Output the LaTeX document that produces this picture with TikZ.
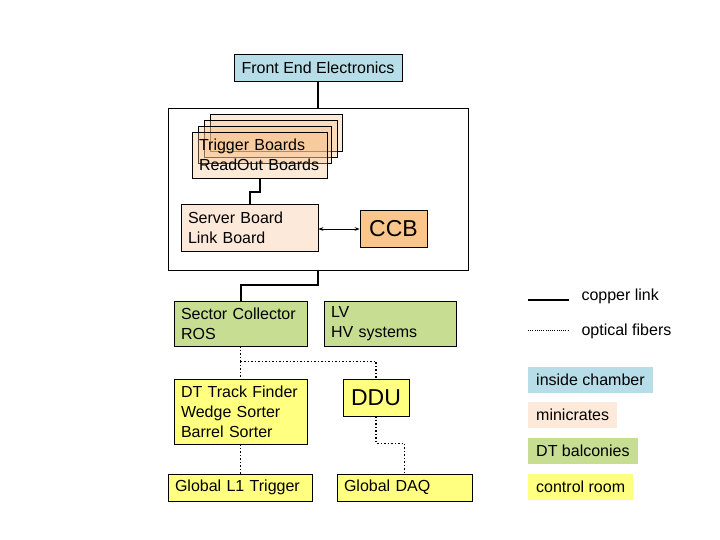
\documentclass[tikz,border=0pt]{standalone}
\usepackage{fontspec}
\setmainfont{Liberation Sans}
\usepackage{tikz}
\usetikzlibrary{arrows.meta,positioning,calc}

\definecolor{chamber}{HTML}{B7DDE8}
\definecolor{minicrate}{HTML}{FDE9D9}
\definecolor{boardorange}{HTML}{F7C08A}
\definecolor{ccborange}{HTML}{FAC68C}
\definecolor{balcony}{HTML}{C6DD92}
\definecolor{ctrlroom}{HTML}{FFFF80}

\begin{document}
\begin{tikzpicture}[
    x=1pt, y=-1pt,
    every node/.style={font=\fontsize{16}{20}\selectfont},
    box/.style={rectangle, draw, line width=0.8pt, inner xsep=7pt, inner ysep=0pt, align=left},
    board/.style={rectangle, draw, line width=0.8pt, fill=boardorange, fill opacity=0.35, text opacity=1, inner xsep=7pt, inner ysep=0pt, align=left},
    big/.style={font=\fontsize{23}{26}\selectfont},
    swatch/.style={rectangle, inner xsep=8pt, inner ysep=0pt, minimum height=26pt, anchor=west},
    copper/.style={line width=2pt},
    fiber/.style={line width=1.5pt, dash pattern=on 1.5pt off 2pt}
]
\useasboundingbox (0,0) rectangle (720,540);

% Inside chamber
\node[box, fill=chamber, minimum width=168pt, minimum height=27pt, align=center] (fee) at (318,67.5) {Front End Electronics};

% Minicrate frame
\node[rectangle, draw, line width=0.8pt, minimum width=300pt, minimum height=162pt] (frame) at (318,189) {};

% Stacked boards
\node[board, minimum width=132pt, minimum height=37pt] (board3) at (276,132.5) {};
\node[board, minimum width=133pt, minimum height=37pt] (board2) at (270.5,138.5) {};
\node[board, minimum width=133pt, minimum height=37pt] (board1) at (264.5,144.5) {};
\node[board, text width=121pt, minimum height=46pt] (boards) at (259.5,155) {Trigger Boards\\ReadOut~Boards};

% Server and CCB
\node[box, fill=minicrate, text width=123pt, minimum height=47pt] (server) at (249.5,227.5) {Server Board\\Link Board};
\node[box, fill=ccborange, big, minimum width=67pt, minimum height=37pt, inner xsep=2pt, align=center] (ccb) at (393.5,229) {CCB};

% DT balconies
\node[box, fill=balcony, text width=119pt, minimum height=45pt] (sector) at (240.5,323.5) {Sector Collector\\ROS};
\node[box, fill=balcony, text width=118pt, minimum height=45pt] (lvhv) at (390,323.5) {LV\\HV systems};

% Control room
\node[box, fill=ctrlroom, text width=119pt, minimum height=65pt] (tf) at (240.5,411.5) {DT Track~Finder\\Wedge Sorter\\Barrel Sorter};
\node[box, fill=ctrlroom, big, minimum width=66pt, minimum height=37pt, inner xsep=2pt, align=center] (ddu) at (376,397.5) {DDU};
\node[box, fill=ctrlroom, text width=130pt, minimum height=27pt] (gl1) at (240,487.5) {Global L1 Trigger};
\node[box, fill=ctrlroom, text width=121pt, minimum height=27pt] (gdaq) at (404.5,487.5) {Global DAQ};

% Copper links
\draw[copper] (fee.south) -- (frame.north);
\draw[copper] (boards.south) -- ++(0,14) -| (server.north);
\draw[line width=0.8pt, {Stealth[length=5pt]}-{Stealth[length=5pt]}] (ccb.west -| server.east) -- (ccb.west);
\draw[copper] (frame.south) -- ++(0,15) -| (sector.north);

% Optical fibers
\draw[fiber] (sector.south) -- ++(0,15) coordinate (split);
\draw[fiber] (split) -| (ddu.north);
\draw[fiber] (split) -- (tf.north);
\draw[fiber] (tf.south) -- (tf.south |- gl1.north);
\draw[fiber] (ddu.south) -- ++(0,27) -| (gdaq.north);

% Legend
\coordinate (cu_a) at (528,300);
\coordinate (cu_b) at (569,300);
\draw[copper] (cu_a) -- (cu_b);
\node[anchor=west] (cu_lbl) at (578,296) {copper link};
\coordinate (of_a) at (528,330);
\coordinate (of_b) at (569,330);
\draw[line width=1pt, dash pattern=on 1pt off 1.2pt] (of_a) -- (of_b);
\node[anchor=west] (of_lbl) at (578,331) {optical fibers};

\node[swatch, fill=chamber] (leg_chamber) at (528,379.5) {inside chamber};
\node[swatch, fill=minicrate] (leg_minicrate) at (528,415) {minicrates};
\node[swatch, fill=balcony] (leg_balcony) at (528,450.5) {DT balconies};
\node[swatch, fill=ctrlroom] (leg_ctrl) at (528,487) {control room};

\end{tikzpicture}
\end{document}
